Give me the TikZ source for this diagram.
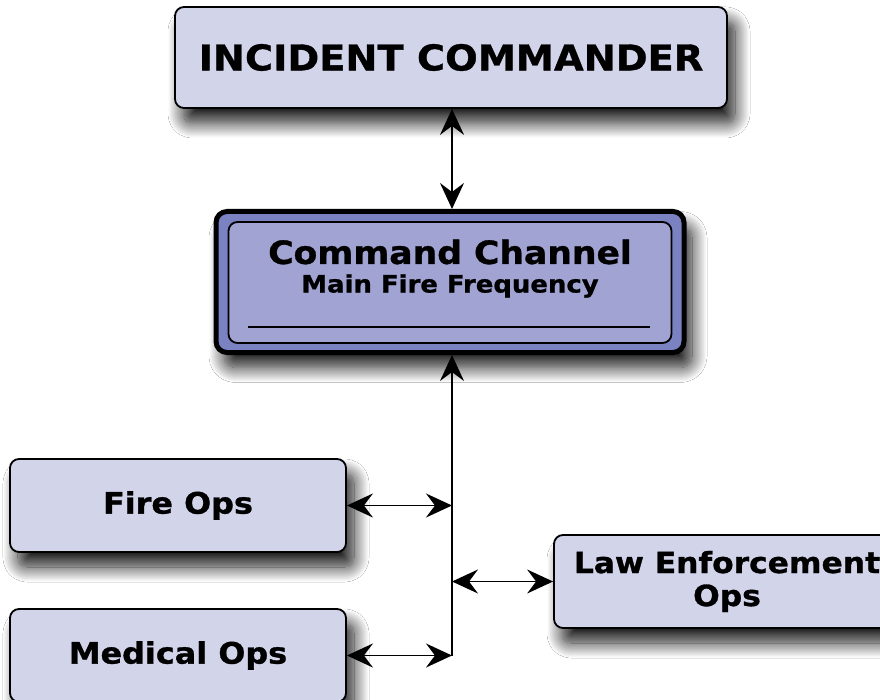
\documentclass[tikz,border=0pt]{standalone}
\usepackage{fontspec}
\setmainfont{DejaVu Sans}[FakeStretch=1.08, BoldFeatures={FakeBold=1}]
\usetikzlibrary{shadows.blur,arrows.meta}

\definecolor{boxfill}{RGB}{210,212,234}
\definecolor{chanouter}{RGB}{122,130,194}
\definecolor{chaninner}{RGB}{161,163,210}

\tikzset{
  dropshadow/.style={blur shadow={shadow xshift=8pt, shadow yshift=-15pt,
      shadow blur radius=15pt, shadow opacity=90, shadow blur steps=20}},
  opsbox/.style={draw=black, line width=1.8pt, fill=boxfill, rounded corners=9pt,
      dropshadow, font=\bfseries, align=center, inner sep=0pt},
  chanbox/.style={draw=black, line width=5pt, fill=chanouter, rounded corners=11pt,
      dropshadow, inner sep=0pt},
  chaninnerbox/.style={draw=black, line width=1.8pt, fill=chaninner, rounded corners=9pt,
      inner sep=0pt},
  >={Stealth[length=26pt, width=24pt, inset=9pt]},
  link/.style={line width=1.8pt, <->},
  uplink/.style={line width=1.8pt, ->},
}

\begin{document}
\begin{tikzpicture}[x=1pt, y=-1pt]
  \useasboundingbox (0,0) rectangle (880,700);
  \clip (0,0) rectangle (880,700);
  \fill[white] (0,0) rectangle (880,700);

  % top of the chain
  \node[opsbox, minimum width=552pt, minimum height=101pt, font=\bfseries\fontsize{35.5}{38}\selectfont]
    (ic) at (451,57.5) {INCIDENT COMMANDER};

  % command channel box with inner panel and rule
  \node[chanbox, minimum width=468pt, minimum height=141pt] (cc) at (450,282) {};
  \node[chaninnerbox, minimum width=443pt, minimum height=121pt] (ccin) at (450,282.5) {};
  \node[font=\bfseries\fontsize{32}{36}\selectfont] (cctitle) at (450,252) {Command Channel};
  \node[font=\bfseries\fontsize{24}{26}\selectfont] (ccsub) at (450,286) {Main Fire Frequency};
  \draw[line width=1.8pt] ([xshift=20pt,yshift=17pt]ccin.south west) coordinate (rulel)
    -- ([xshift=-22pt,yshift=17pt]ccin.south east) coordinate (ruler);

  % operations boxes
  \node[opsbox, minimum width=336pt, minimum height=93pt, font=\bfseries\fontsize{29.5}{32}\selectfont]
    (fire) at (178,505.5) {Fire Ops};
  \node[opsbox, minimum width=336pt, minimum height=93pt, font=\bfseries\fontsize{29.5}{32}\selectfont]
    (med) at (178,655.5) {Medical Ops};
  \node[opsbox, minimum width=346pt, minimum height=93pt, font=\bfseries\fontsize{29}{33}\selectfont]
    (law) at (727,581.5) {Law Enforcement\\Ops};

  % radio bus
  \coordinate (bus) at (452,0);
  \coordinate (busend) at (452,655.5);

  \draw[link] (ic.south -| bus) -- (cc.north -| bus);
  \draw[uplink] (busend) -- (cc.south -| bus);
  \draw[link] (fire.east) -- (fire.east -| bus);
  \draw[link] (med.east) -- (med.east -| bus);
  \draw[link] (law.west -| bus) -- (law.west);
\end{tikzpicture}
\end{document}
